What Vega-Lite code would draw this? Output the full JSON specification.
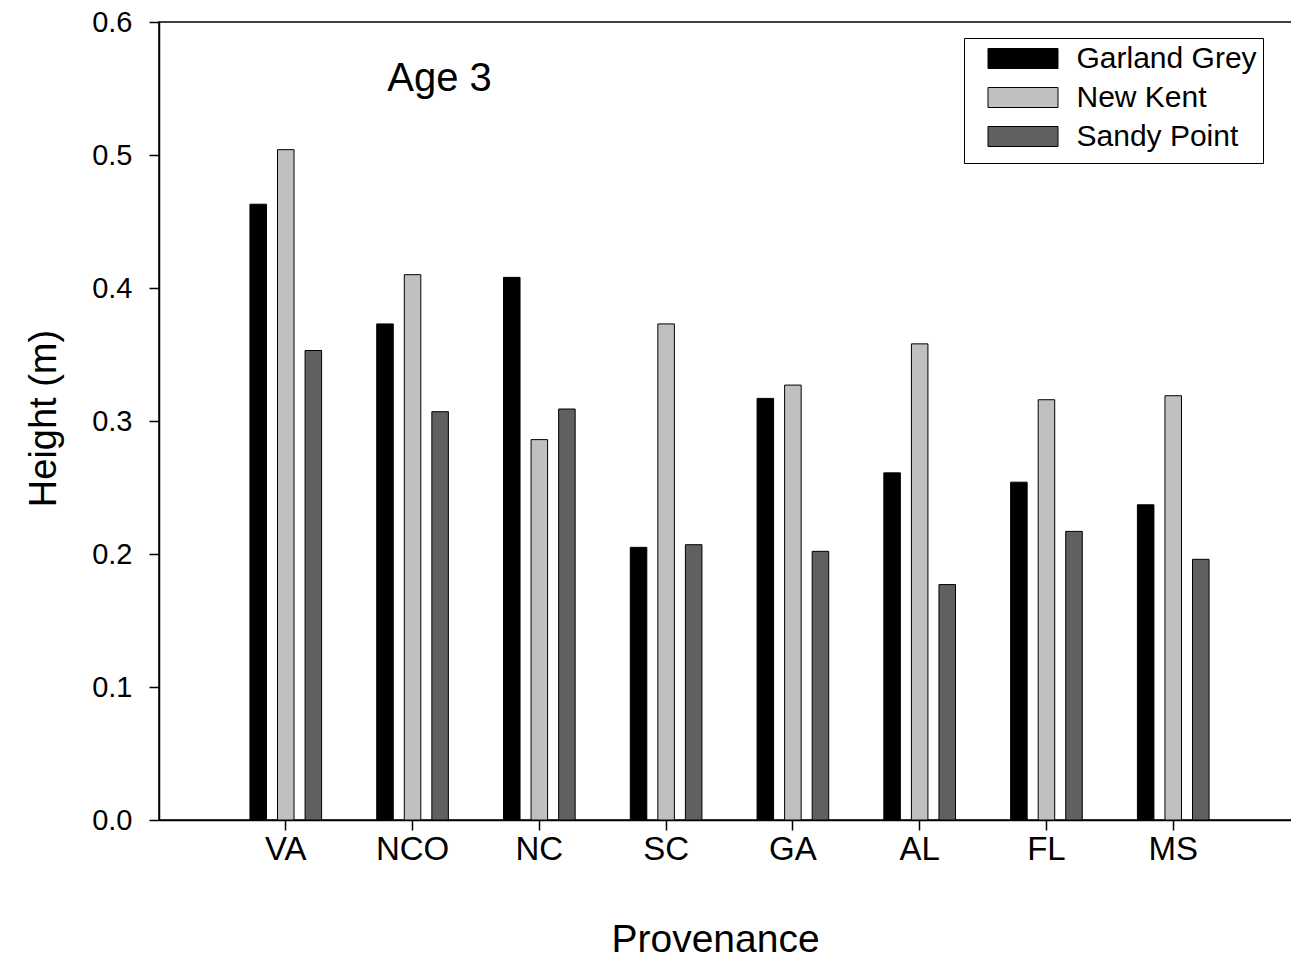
{
  "$schema": "https://vega.github.io/schema/vega-lite/v6.json",
  "width": 1141,
  "height": 798,
  "autosize": {"type": "none"},
  "padding": {"left": 159, "top": 22, "right": 0, "bottom": 140},
  "background": "white",
  "config": {
    "font": "Liberation Sans",
    "view": {"stroke": "black", "strokeWidth": 1.5},
    "axis": {
      "grid": false,
      "domainColor": "black",
      "domainWidth": 1.5,
      "tickColor": "black",
      "tickWidth": 1.5,
      "labelColor": "black",
      "titleColor": "black",
      "titleFontWeight": "normal",
      "labelFont": "Liberation Sans",
      "titleFont": "Liberation Sans"
    }
  },
  "layer": [
    {
      "data": {
        "values": [
          {"provenance": "VA", "seed": "Garland Grey", "height": 0.463},
          {"provenance": "VA", "seed": "New Kent", "height": 0.504},
          {"provenance": "VA", "seed": "Sandy Point", "height": 0.353},
          {"provenance": "NCO", "seed": "Garland Grey", "height": 0.373},
          {"provenance": "NCO", "seed": "New Kent", "height": 0.410},
          {"provenance": "NCO", "seed": "Sandy Point", "height": 0.307},
          {"provenance": "NC", "seed": "Garland Grey", "height": 0.408},
          {"provenance": "NC", "seed": "New Kent", "height": 0.286},
          {"provenance": "NC", "seed": "Sandy Point", "height": 0.309},
          {"provenance": "SC", "seed": "Garland Grey", "height": 0.205},
          {"provenance": "SC", "seed": "New Kent", "height": 0.373},
          {"provenance": "SC", "seed": "Sandy Point", "height": 0.207},
          {"provenance": "GA", "seed": "Garland Grey", "height": 0.317},
          {"provenance": "GA", "seed": "New Kent", "height": 0.327},
          {"provenance": "GA", "seed": "Sandy Point", "height": 0.202},
          {"provenance": "AL", "seed": "Garland Grey", "height": 0.261},
          {"provenance": "AL", "seed": "New Kent", "height": 0.358},
          {"provenance": "AL", "seed": "Sandy Point", "height": 0.177},
          {"provenance": "FL", "seed": "Garland Grey", "height": 0.254},
          {"provenance": "FL", "seed": "New Kent", "height": 0.316},
          {"provenance": "FL", "seed": "Sandy Point", "height": 0.217},
          {"provenance": "MS", "seed": "Garland Grey", "height": 0.237},
          {"provenance": "MS", "seed": "New Kent", "height": 0.319},
          {"provenance": "MS", "seed": "Sandy Point", "height": 0.196}
        ]
      },
      "mark": {"type": "bar", "stroke": "black", "strokeWidth": 1},
      "encoding": {
        "x": {
          "field": "provenance",
          "type": "nominal",
          "sort": ["VA", "NCO", "NC", "SC", "GA", "AL", "FL", "MS"],
          "scale": {"paddingInner": 0, "paddingOuter": 0.5},
          "axis": {
            "title": "Provenance",
            "labelAngle": 0,
            "labelFontSize": 33,
            "labelPadding": 3,
            "tickSize": 10,
            "titleFontSize": 39,
            "titleX": 556,
            "titleY": 131,
            "titleBaseline": "alphabetic",
            "titleAlign": "center"
          }
        },
        "xOffset": {
          "field": "seed",
          "type": "nominal",
          "sort": ["Garland Grey", "New Kent", "Sandy Point"],
          "scale": {"paddingInner": 0.4, "paddingOuter": 1.25}
        },
        "y": {
          "field": "height",
          "type": "quantitative",
          "scale": {"domain": [0, 0.6], "nice": false},
          "axis": {
            "title": "Height (m)",
            "values": [0, 0.1, 0.2, 0.3, 0.4, 0.5, 0.6],
            "format": ".1f",
            "tickSize": 10,
            "labelFontSize": 29,
            "labelPadding": 17,
            "titleFontSize": 38,
            "titleAngle": 270,
            "titleX": -104,
            "titleY": 396,
            "titleBaseline": "alphabetic",
            "titleAlign": "center"
          }
        },
        "color": {
          "field": "seed",
          "type": "nominal",
          "sort": ["Garland Grey", "New Kent", "Sandy Point"],
          "scale": {
            "domain": ["Garland Grey", "New Kent", "Sandy Point"],
            "range": ["#000000", "#c0c0c0", "#606060"]
          },
          "legend": {
            "orient": "none",
            "legendX": 805,
            "legendY": 16,
            "title": " ",
            "titleOrient": "bottom",
            "titleFontSize": 6,
            "titlePadding": 0,
            "symbolType": "M0.35,-1L7.35,-1L7.35,1L0.35,1Z",
            "symbolSize": 400,
            "symbolStrokeColor": "black",
            "symbolStrokeWidth": 1,
            "symbolOpacity": 1,
            "labelFontSize": 30,
            "labelFont": "Liberation Sans",
            "labelColor": "black",
            "labelOffset": 77,
            "labelLimit": 400,
            "rowPadding": 9,
            "padding": 5.5,
            "strokeColor": "black",
            "fillColor": "white"
          }
        }
      }
    },
    {
      "data": {"values": [{"provenance": "NCO", "height": 0.548, "label": "Age 3"}]},
      "mark": {
        "type": "text",
        "fontSize": 40,
        "font": "Liberation Sans",
        "align": "center",
        "baseline": "alphabetic",
        "dx": 27,
        "color": "black"
      },
      "encoding": {
        "x": {
          "field": "provenance",
          "type": "nominal",
          "sort": ["VA", "NCO", "NC", "SC", "GA", "AL", "FL", "MS"]
        },
        "y": {"field": "height", "type": "quantitative"},
        "text": {"field": "label"}
      }
    }
  ]
}
